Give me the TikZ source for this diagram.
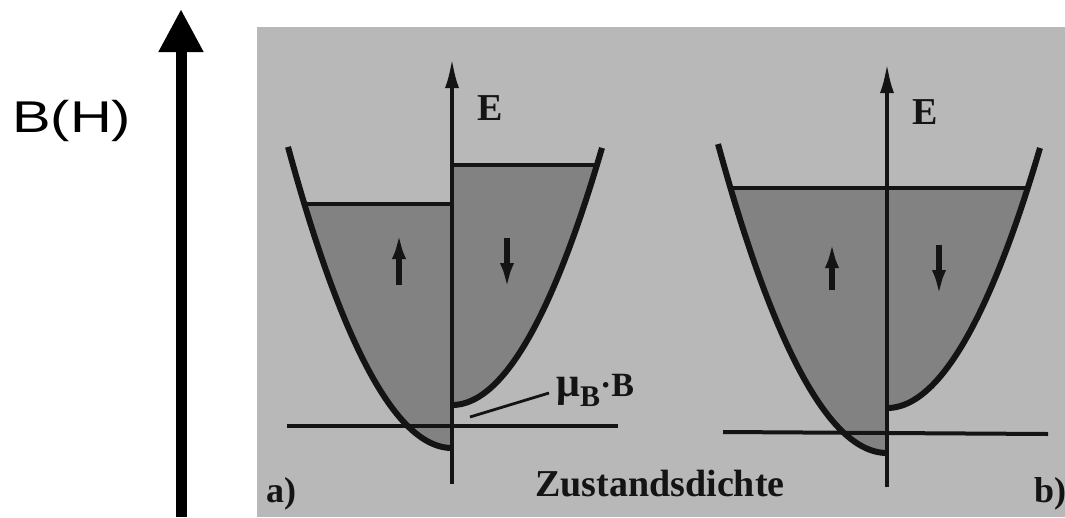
\documentclass[tikz,border=0pt]{standalone}
\usepackage{fontspec}
\setmainfont{Liberation Serif}
\newfontfamily\bhfont[FakeStretch=1.3]{Liberation Sans}
\usetikzlibrary{arrows.meta}
\definecolor{scanbg}{RGB}{184,184,184}
\definecolor{scanfill}{RGB}{130,130,130}
\definecolor{ink}{RGB}{20,20,20}
\begin{document}
\begin{tikzpicture}[x=1pt,y=-1pt,
  curve/.style={draw=ink,line width=6pt,line join=round},
  level/.style={draw=ink,line width=4pt},
  eaxis/.style={draw=ink,line width=4pt,-{Latex[length=30pt,width=14pt]}},
  spin/.style={draw=ink,line width=5.5pt,-{Latex[length=26pt,width=14pt]}},
  bigarrow/.style={draw=black,line width=11pt,-{Triangle[length=43pt,width=42pt]}},
  serifbold/.style={inner sep=0pt,text=ink,font=\bfseries},
]
\useasboundingbox (0,0) rectangle (1065,517);
% scanned background
\fill[scanbg] (257,27) rectangle (1065,517);

% ---------- panel a) fills ----------
\fill[scanfill] (452,448) -- plot[domain=0:147.6,samples=40] ({452-\x},{448-(0.1058*\x)*(0.1058*\x)}) -- (452,204) -- cycle;
\fill[scanfill] (452,405) -- plot[domain=0:144.9,samples=40] ({452+\x},{405-(0.1069*\x)*(0.1069*\x)}) -- (452,165) -- cycle;
% ---------- panel b) fills ----------
\fill[scanfill] (887,453) -- plot[domain=0:156.5,samples=40] ({887-\x},{453-(0.1040*\x)*(0.1040*\x)}) -- (887,188) -- cycle;
\fill[scanfill] (887,408) -- plot[domain=0:140.7,samples=40] ({887+\x},{408-(0.1054*\x)*(0.1054*\x)}) -- (887,188) -- cycle;

% ---------- coordinates ----------
\coordinate (aBot) at (452,484);
\coordinate (aTop) at (452,58);
\coordinate (bBot) at (887,487);
\coordinate (bTop) at (887,63);
\coordinate (aL1) at (287,426); \coordinate (aL2) at (618,426);
\coordinate (bL1) at (723,432); \coordinate (bL2) at (1048,434);
\coordinate (aFu1) at (304,204); \coordinate (aFu2) at (452,204);
\coordinate (aFd1) at (452,165); \coordinate (aFd2) at (597,165);
\coordinate (bF1) at (730,188); \coordinate (bF2) at (1028,188);
\coordinate (aUp1) at (399,285); \coordinate (aUp2) at (399,233);
\coordinate (aDn1) at (507,238); \coordinate (aDn2) at (507,289);
\coordinate (bUp1) at (832,290); \coordinate (bUp2) at (832,242);
\coordinate (bDn1) at (939,245); \coordinate (bDn2) at (939,296);
\coordinate (leadA) at (470,417);
\coordinate (leadB) at (549,393);
\coordinate (Bbot) at (181,517);
\coordinate (Btop) at (181,9);

% ---------- curves ----------
\draw[curve] plot[domain=0:164,samples=60] ({452-\x},{448-(0.1058*\x)*(0.1058*\x)});
\draw[curve] plot[domain=0:150,samples=60] ({452+\x},{405-(0.1069*\x)*(0.1069*\x)});
\draw[curve] plot[domain=0:169,samples=60] ({887-\x},{453-(0.1040*\x)*(0.1040*\x)});
\draw[curve] plot[domain=0:153,samples=60] ({887+\x},{408-(0.1054*\x)*(0.1054*\x)});

% ---------- levels and base lines ----------
\draw[level] (aFu1) -- (aFu2);
\draw[level] (aFd1) -- (aFd2);
\draw[level] (bF1) -- (bF2);
\draw[level] (aL1) -- (aL2);
\draw[level] (bL1) -- (bL2);

% ---------- energy axes ----------
\draw[eaxis] (aBot) -- (aTop);
\draw[eaxis] (bBot) -- (bTop);

% ---------- spin arrows ----------
\draw[spin] (aUp1) -- (aUp2);
\draw[spin] (aDn1) -- (aDn2);
\draw[spin] (bUp1) -- (bUp2);
\draw[spin] (bDn1) -- (bDn2);

% ---------- labels ----------
\node[serifbold,anchor=base west,font=\bfseries\fontsize{38}{38}\selectfont] (Ea) at (477,120) {E};
\node[serifbold,anchor=base west,font=\bfseries\fontsize{38}{38}\selectfont] (Eb) at (912,124) {E};
\node[serifbold,anchor=base west] (muB) at (556,396)
  {\fontsize{42}{42}\selectfont μ\raisebox{-10pt}{\fontsize{30}{30}\selectfont B}\fontsize{34}{34}\selectfont ·B};
\draw[draw=ink,line width=2.8pt] (leadA) -- (leadB);
\node[serifbold,anchor=base,font=\bfseries\fontsize{38}{38}\selectfont] (zd) at (660,496) {Zustandsdichte};
\node[serifbold,anchor=base west,font=\bfseries\fontsize{36}{36}\selectfont] (la) at (266,502) {a)};
\node[serifbold,anchor=base west,font=\bfseries\fontsize{36}{36}\selectfont] (lb) at (1034,502) {b)};

% ---------- B(H) axis ----------
\draw[bigarrow] (Bbot) -- (Btop);
\node[anchor=base west,inner sep=0pt,font=\bhfont\fontsize{44.5}{44.5}\selectfont] (BH) at (12,132) {B(H)};
\end{tikzpicture}
\end{document}
